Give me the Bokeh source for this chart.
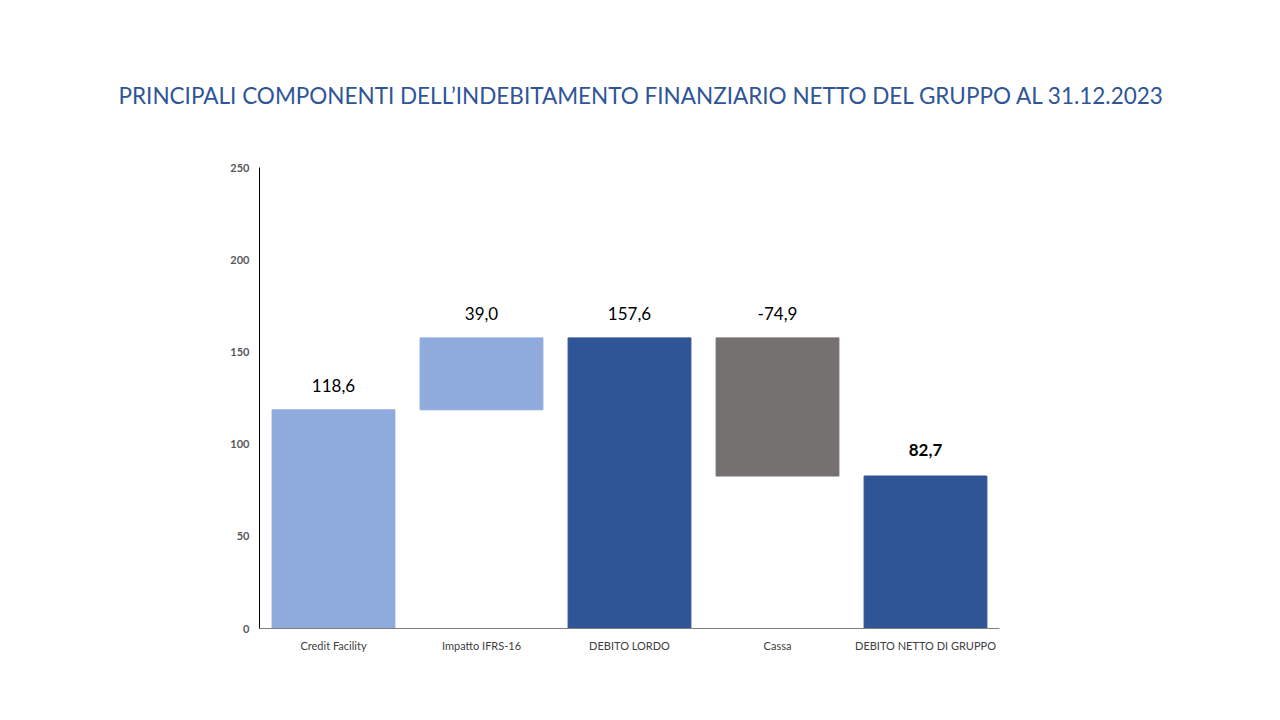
from bokeh.plotting import figure
from bokeh.models import ColumnDataSource, FixedTicker, Label, Range1d, Title
from bokeh.embed import file_html
from bokeh.resources import INLINE

categories = ["Credit Facility", "Impatto IFRS-16", "DEBITO LORDO", "Cassa", "DEBITO NETTO DI GRUPPO"]
values = [118.6, 39.0, 157.6, -74.9, 82.7]
is_total = [False, False, True, False, True]
labels = ["118,6", "39,0", "157,6", "-74,9", "82,7"]
colors = ["#8FAADC", "#8FAADC", "#2F5597", "#767171", "#2F5597"]
y_ticks = [0, 50, 100, 150, 200, 250]
title_text = "PRINCIPALI COMPONENTI DELL\u2019INDEBITAMENTO FINANZIARIO NETTO DEL GRUPPO AL 31.12.2023"

bottoms, tops = [], []
running = 0.0
for v, t in zip(values, is_total):
    if t:
        bottoms.append(0.0)
        tops.append(v)
        running = v
    else:
        lo, hi = sorted([running, running + v])
        bottoms.append(lo)
        tops.append(hi)
        running += v

src = ColumnDataSource(dict(x=categories, bottom=bottoms, top=tops, color=colors))

p = figure(x_range=categories, y_range=Range1d(0, 250), width=1264, height=704,
           output_backend="svg", toolbar_location=None, title=None,
           min_border_left=259, min_border_right=265, min_border_top=167, min_border_bottom=76)
p.vbar(x="x", bottom="bottom", top="top", width=0.83, color="color", source=src)

# spacer first (closest to frame), then the real title above it
p.add_layout(Title(text=" ", text_font_size="38px"), "above")
p.add_layout(Title(text=title_text, align="left", offset=-141,
                   text_font="Lato", text_font_size="22.5px", text_font_style="normal",
                   text_color="#2F5597"), "above")

p.outline_line_color = None
p.grid.grid_line_color = None
p.background_fill_color = "white"

p.yaxis.ticker = FixedTicker(ticks=y_ticks)
p.yaxis.major_tick_line_color = None
p.yaxis.minor_tick_line_color = None
p.yaxis.axis_line_color = "#000000"
p.yaxis.axis_line_width = 1
p.yaxis.major_label_text_font = "Lato"
p.yaxis.major_label_text_font_size = "11px"
p.yaxis.major_label_text_font_style = "bold"
p.yaxis.major_label_text_color = "#595959"
p.yaxis.major_label_standoff = 4

p.xaxis.major_tick_line_color = None
p.xaxis.minor_tick_line_color = None
p.xaxis.axis_line_color = "#7F7F7F"
p.xaxis.major_label_text_font = "Lato"
p.xaxis.major_label_text_font_size = "11px"
p.xaxis.major_label_text_color = "#404040"
p.xaxis.major_label_standoff = 4

for i, lab in enumerate(labels):
    p.add_layout(Label(x=i + 0.5, y=tops[i], text=lab, text_align="center",
                       text_baseline="bottom", y_offset=18 if i < len(labels) - 1 else 20,
                       text_font="Lato", text_font_size="17px", text_color="#000000",
                       text_font_style="bold" if i == len(labels) - 1 else "normal"))

open("out.html", "w").write(file_html(p, INLINE))
